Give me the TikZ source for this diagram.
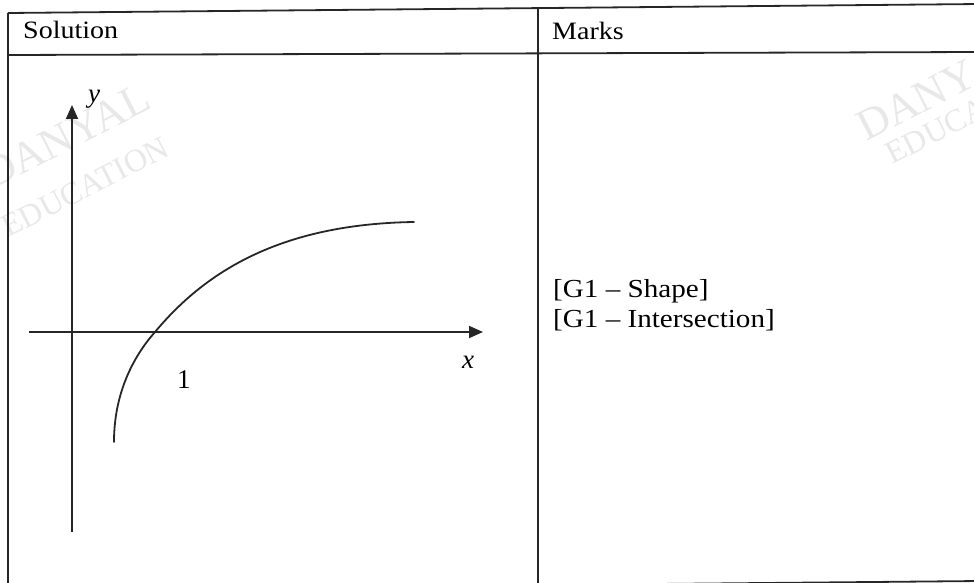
\documentclass[tikz,border=0pt]{standalone}
\usepackage{fontspec}
\setmainfont{Liberation Serif}
\usetikzlibrary{arrows.meta}

\newcommand{\widetxt}[1]{\scalebox{1.12}[1]{#1}}

\tikzset{
  rule/.style={line width=1.8pt, black!85},
  axis/.style={line width=1.8pt, black!85},
  txt/.style={inner sep=0pt, anchor=base west, font=\fontsize{27}{30}\selectfont},
  head/.style={txt, font=\fontsize{25}{25}\selectfont},
  wbig/.style={inner sep=0pt, anchor=base west, black!9, rotate=27, font=\fontsize{44}{44}\selectfont},
  wsmall/.style={wbig, font=\fontsize{32}{32}\selectfont},
}

\begin{document}
\begin{tikzpicture}[x=1pt, y=-1pt, >={Triangle[length=14pt,width=12pt]}]
  \useasboundingbox (0,0) rectangle (974,583);
  \clip (0,0) rectangle (974,583);

  % watermark
  \node[wbig] (wmdl) at (-8,190) {DANYAL};
  \node[wsmall] (wmel) at (8,238) {EDUCATION};
  \node[wbig] (wmdr) at (866,142) {DANYAL};
  \node[wsmall] (wmer) at (892,165) {EDUCATION};

  % table
  \draw[rule] (8,13) -- (980,4);
  \draw[rule] (8,55) -- (980,52);
  \draw[rule] (8,13) -- (8,590);
  \draw[rule] (538,9) -- (538,590);
  \draw[rule] (8,590) -- (980,581);
  \node[head] (hsol) at (23,39) {\widetxt{Solution}};
  \node[head] (hmrk) at (552,40) {\widetxt{Marks}};

  % axes
  \coordinate (xl) at (29,332);
  \coordinate (xr) at (483,332);
  \coordinate (yb) at (72,532);
  \coordinate (yt) at (72,105);
  \draw[axis, ->] (xl) -- (xr);
  \draw[axis, ->] (yb) -- (yt);
  \node[txt] (ylab) at (88,103) {\textit{y}};
  \node[txt] (xlab) at (462,368) {\textit{x}};
  \node[txt] (one) at (177,388) {1};

  % the curve
  \coordinate (cbot) at (114,442);
  \coordinate (cx) at (155,332);
  \coordinate (ctop) at (414,222);
  \draw[axis, line cap=round] (cbot) .. controls (114,395) and (132,358) .. (cx)
    .. controls (205,272) and (280,224) .. (ctop);

  % marks
  \node[txt, font=\fontsize{26}{30}\selectfont] (mrk1) at (553,297) {\widetxt{[G1 -- Shape]}};
  \node[txt, font=\fontsize{26}{30}\selectfont] (mrk2) at (553,327) {\widetxt{[G1 -- Intersection]}};
\end{tikzpicture}
\end{document}
